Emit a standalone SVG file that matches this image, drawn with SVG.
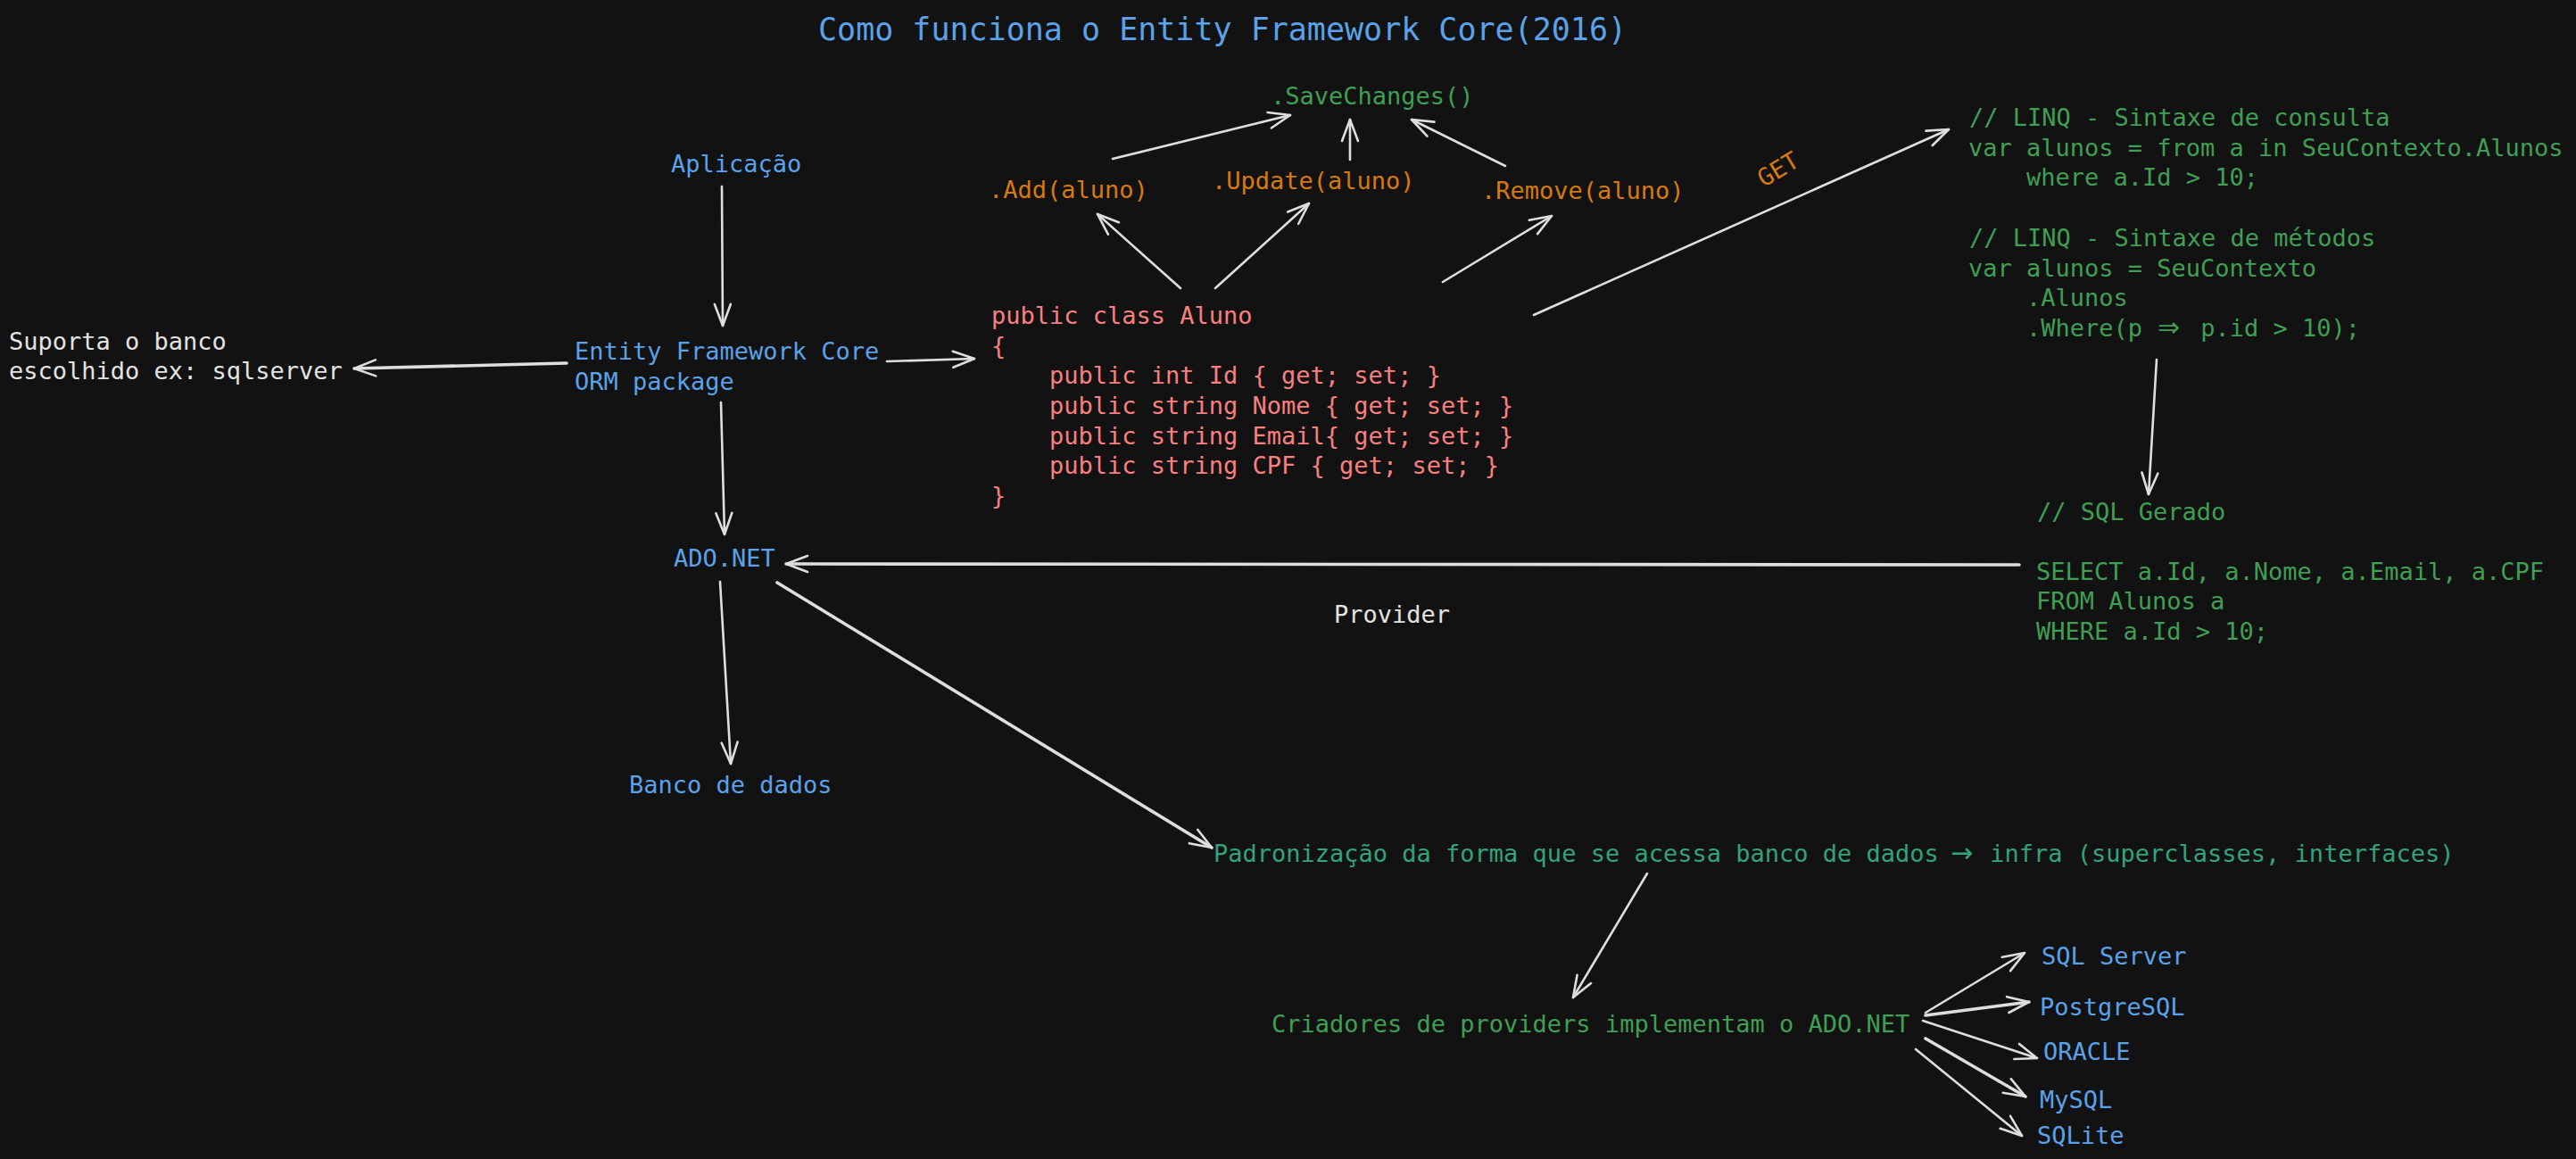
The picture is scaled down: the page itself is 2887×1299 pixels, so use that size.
<svg xmlns="http://www.w3.org/2000/svg" width="2887" height="1299" viewBox="0 0 2887 1299">
<style>
text{font-family:"DejaVu Sans Mono","Liberation Mono",monospace;font-size:27px;}
.blue{fill:#5aa2ea;}
.white{fill:#e3e3e3;}
.green{fill:#3f9f52;}
.teal{fill:#33a37a;}
.orange{fill:#d7790c;}
.red{fill:#fa7f7f;}
.sym{font-family:"DejaVu Sans","Noto Sans",sans-serif;font-size:30px;}
.conn{stroke:#dedede;stroke-width:2.6;fill:none;stroke-linecap:round;marker-end:url(#ah);}
.thick{stroke-width:3.6;}
</style>
<defs>
<marker id="ah" markerUnits="userSpaceOnUse" markerWidth="30" markerHeight="24" viewBox="0 0 30 24" refX="27" refY="12" orient="auto">
<path d="M3,3 L27,12 L3,21" fill="none" stroke="#dedede" stroke-width="2.6" stroke-linecap="round" stroke-linejoin="round"/>
</marker>
</defs>
<rect x="0" y="0" width="2887" height="1299" fill="#121212"/>

<g id="title"><text class="blue" x="917" y="45" style="font-size:35px">Como funciona o Entity Framework Core(2016)</text></g>

<g id="aplicacao"><text class="blue" x="752" y="193">Aplicação</text></g>
<g id="ef-core"><text class="blue"><tspan x="644" y="403">Entity Framework Core</tspan><tspan x="644" y="437">ORM package</tspan></text></g>
<g id="suporta"><text class="white"><tspan x="10" y="392">Suporta o banco</tspan><tspan x="10" y="425">escolhido ex: sqlserver</tspan></text></g>
<g id="ado-net"><text class="blue" x="755" y="635">ADO.NET</text></g>
<g id="banco"><text class="blue" x="705" y="889">Banco de dados</text></g>
<g id="provider"><text class="white" x="1495" y="698">Provider</text></g>

<g id="savechanges"><text class="green" x="1424" y="117">.SaveChanges()</text></g>
<g id="add"><text class="orange" x="1108" y="222">.Add(aluno)</text></g>
<g id="update"><text class="orange" x="1358" y="212">.Update(aluno)</text></g>
<g id="remove"><text class="orange" x="1660" y="223">.Remove(aluno)</text></g>
<g id="get"><text class="orange" x="1993" y="199" text-anchor="middle" transform="rotate(-31 1993 190)">GET</text></g>

<g id="aluno-class"><text class="red">
<tspan x="1111" y="363">public class Aluno</tspan>
<tspan x="1111" y="397">{</tspan>
<tspan x="1176" y="430">public int Id { get; set; }</tspan>
<tspan x="1176" y="464">public string Nome { get; set; }</tspan>
<tspan x="1176" y="498">public string Email{ get; set; }</tspan>
<tspan x="1176" y="531">public string CPF { get; set; }</tspan>
<tspan x="1111" y="565">}</tspan>
</text></g>

<g id="linq"><text class="green">
<tspan x="2207" y="141">// LINQ - Sintaxe de consulta</tspan>
<tspan x="2206" y="175">var alunos = from a in SeuContexto.Alunos</tspan>
<tspan x="2271" y="208">where a.Id &gt; 10;</tspan>
<tspan x="2207" y="276">// LINQ - Sintaxe de métodos</tspan>
<tspan x="2206" y="310">var alunos = SeuContexto</tspan>
<tspan x="2271" y="343">.Alunos</tspan>
<tspan x="2271" y="377">.Where(p </tspan><tspan x="2418" class="sym">⇒</tspan><tspan x="2450"> p.id &gt; 10);</tspan>
</text></g>

<g id="sql"><text class="green">
<tspan x="2283" y="583">// SQL Gerado</tspan>
<tspan x="2282" y="650">SELECT a.Id, a.Nome, a.Email, a.CPF</tspan>
<tspan x="2282" y="683">FROM Alunos a</tspan>
<tspan x="2282" y="717">WHERE a.Id &gt; 10;</tspan>
</text></g>

<g id="padronizacao"><text class="teal" x="1360" y="966">Padronização da forma que se acessa banco de dados <tspan x="2186" class="sym">→</tspan><tspan x="2214"> infra (superclasses, interfaces)</tspan></text></g>
<g id="criadores"><text class="green" x="1425" y="1157">Criadores de providers implementam o ADO.NET</text></g>

<g id="sqlserver"><text class="blue" x="2288" y="1081">SQL Server</text></g>
<g id="postgresql"><text class="blue" x="2286" y="1138">PostgreSQL</text></g>
<g id="oracle"><text class="blue" x="2290" y="1188">ORACLE</text></g>
<g id="mysql"><text class="blue" x="2286" y="1242">MySQL</text></g>
<g id="sqlite"><text class="blue" x="2283" y="1282">SQLite</text></g>

<g id="connectors">
<line class="conn" x1="809" y1="209" x2="810" y2="365"/>
<line class="conn thick" x1="635" y1="407" x2="397" y2="413"/>
<line class="conn" x1="994" y1="405" x2="1092" y2="402"/>
<line class="conn" x1="808" y1="451" x2="812" y2="599"/>
<line class="conn thick" x1="2263" y1="633" x2="881" y2="632"/>
<line class="conn" x1="807" y1="652" x2="819" y2="856"/>
<line class="conn thick" x1="871" y1="653" x2="1358" y2="950"/>
<line class="conn" x1="1846" y1="979" x2="1763" y2="1118"/>
<line class="conn" x1="2158" y1="1135" x2="2269" y2="1068"/>
<line class="conn thick" x1="2158" y1="1138" x2="2274" y2="1123"/>
<line class="conn" x1="2155" y1="1144" x2="2283" y2="1186"/>
<line class="conn thick" x1="2158" y1="1164" x2="2270" y2="1229"/>
<line class="conn" x1="2147" y1="1176" x2="2266" y2="1273"/>
<line class="conn" x1="1247" y1="178" x2="1446" y2="129"/>
<line class="conn" x1="1513" y1="179" x2="1513" y2="134"/>
<line class="conn" x1="1687" y1="186" x2="1582" y2="134"/>
<line class="conn" x1="1323" y1="323" x2="1230" y2="240"/>
<line class="conn" x1="1362" y1="323" x2="1467" y2="228"/>
<line class="conn" x1="1617" y1="316" x2="1739" y2="242"/>
<line class="conn" x1="1719" y1="353" x2="2184" y2="145"/>
<line class="conn" x1="2417" y1="403" x2="2408" y2="554"/>
</g>
</svg>
